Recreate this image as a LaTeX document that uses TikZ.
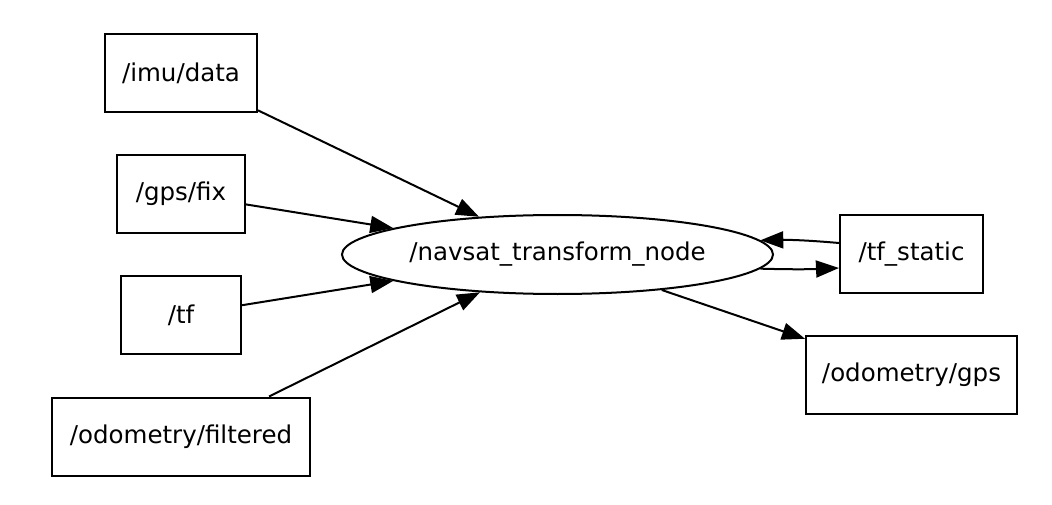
\documentclass[tikz,border=0pt]{standalone}
\usepackage{fontspec}
\setmainfont{DejaVu Sans}
\usetikzlibrary{shapes.geometric,arrows.meta,calc}
\begin{document}
\begin{tikzpicture}[x=1pt,y=-1pt,
  topic/.style={draw, line width=2pt, rectangle, inner sep=0pt, minimum height=78pt, font=\fontsize{24.5}{29}\selectfont},
  nodeell/.style={draw, line width=2pt, ellipse, inner sep=0pt, minimum width=431pt, minimum height=79pt, font=\fontsize{24.5}{29}\selectfont},
  arr/.style={line width=2pt, -{Triangle[length=23pt,width=17pt]}}]
\useasboundingbox (0,0) rectangle (1052,505);
\node[topic, minimum width=152pt] (imu) at (181,73.5) {/imu/data};
\node[topic, minimum width=128pt] (gps) at (181,194) {/gps/fix};
\node[topic, minimum width=120pt] (tf) at (181,315) {/tf};
\node[topic, minimum width=258pt] (odf) at (181,436.5) {/odometry/filtered};
\node[nodeell] (nav) at (557.5,254.5) {/navsat\_transform\_node};
\node[topic, minimum width=143pt] (tfs) at (911.5,254) {/tf\_static};
\node[topic, minimum width=211pt] (odg) at (911.5,375) {/odometry/gps};
\draw[arr] (imu) -- (nav);
\draw[arr] (gps) -- (nav);
\draw[arr] (tf) -- (nav);
\draw[arr] ([xshift=88pt]odf.north) -- (nav.-154);
\draw[arr] ([yshift=11pt]tfs.west) to[bend right=3] (nav.4);
\draw[arr] (nav.-4.5) to[bend right=2] ([yshift=-14pt]tfs.west);
\draw[arr] (nav) -- (odg);
\end{tikzpicture}
\end{document}
